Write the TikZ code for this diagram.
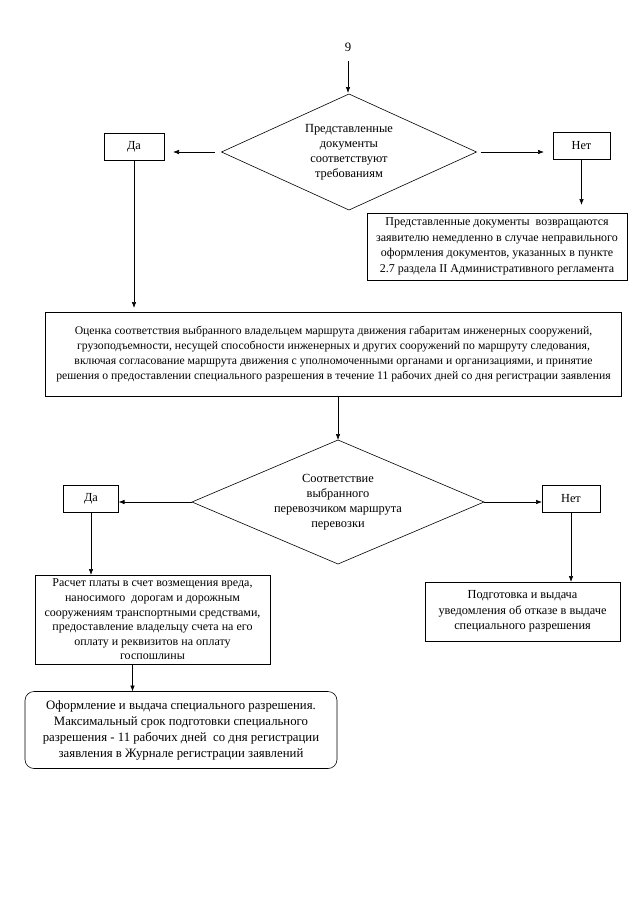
\documentclass[tikz,border=0pt]{standalone}
\usepackage{fontspec}
\setmainfont{Liberation Serif}
\usetikzlibrary{shapes.geometric,arrows.meta,calc}
\begin{document}
\begin{tikzpicture}[x=1pt,y=-1pt,
  every node/.style={inner sep=0pt, outer sep=0pt},
  box/.style={draw, line width=0.6pt, align=center, font=\fontsize{12.3}{15.5}\selectfont},
  dia/.style={draw, diamond, line width=0.6pt, align=center, inner sep=0pt, font=\fontsize{12.4}{15}\selectfont},
  arr/.style={-{Latex[length=6pt,width=4.5pt]}, line width=0.6pt},
  ln/.style={line width=0.6pt}]
\useasboundingbox[fill=white] (0,0) rectangle (640,905);

\node[font=\fontsize{12.8}{14}\selectfont] (nine) at (348,47) {9};

\node[dia, aspect=2.3, minimum width=255, minimum height=116] (d1) at (349,152)
  {Представленные\\документы\\соответствуют\\требованиям};
\node[box, minimum width=60, minimum height=27] (da1) at (134,146.5) {Да};
\node[box, minimum width=57, minimum height=27] (net1) at (581.5,145.5) {Нет};
\node[box, minimum width=260, minimum height=67, font=\fontsize{12}{15.5}\selectfont] (ret) at (497,246.5)
  {Представленные документы\ \ возвращаются\\заявителю немедленно в случае неправильного\\оформления документов, указанных в пункте\\2.7 раздела II Административного регламента};

\node[box, minimum width=576, minimum height=84, font=\fontsize{11.7}{15.2}\selectfont] (big) at (333.5,354)
  {Оценка соответствия выбранного владельцем маршрута движения габаритам инженерных сооружений,\\
   грузоподъемности, несущей способности инженерных и других сооружений по маршруту следования,\\
   включая согласование маршрута движения с уполномоченными органами и организациями, и принятие\\
   решения о предоставлении специального разрешения в течение 11 рабочих дней со дня регистрации заявления};

\node[dia, aspect=2.0, minimum width=292, minimum height=124] (d2) at (338,502)
  {Соответствие\\выбранного\\перевозчиком маршрута\\перевозки};
\node[box, minimum width=55, minimum height=27] (da2) at (91,499) {Да};
\node[box, minimum width=58, minimum height=27] (net2) at (571,498.5) {Нет};

\node[box, minimum width=235, minimum height=89, font=\fontsize{12}{14.6}\selectfont] (rasch) at (152.5,619.5)
  {Расчет платы в счет возмещения вреда,\\наносимого\ \ дорогам и дорожным\\сооружениям транспортными средствами,\\предоставление владельцу счета на его\\оплату и реквизитов на оплату\\госпошлины};
\node[box, rounded corners=9pt, minimum width=312, minimum height=77, font=\fontsize{12.8}{16}\selectfont] (ofm) at (181,730)
  {Оформление и выдача специального разрешения.\\Максимальный срок подготовки специального\\разрешения - 11 рабочих дней\ \ со дня регистрации\\заявления в Журнале регистрации заявлений};
\node[box, minimum width=195, minimum height=59] (podg) at (522.5,611.5)
  {Подготовка и выдача\\уведомления об отказе в выдаче\\специального разрешения};

% connectors
\draw[arr, shorten <=10pt, shorten >=1pt] (nine.south) -- (nine.south |- d1.north);
\draw[arr, shorten <=7pt, shorten >=9pt] (d1.west) -- (d1.west -| da1.east);
\draw[arr, shorten <=4pt, shorten >=9pt] (d1.east) -- (d1.east -| net1.west);
\draw[arr, shorten >=8pt] (net1.south) -- (net1.south |- ret.north);
\draw[arr, shorten >=4pt] (da1.south) -- (da1.south |- big.north);
\draw[arr] (d2.north |- big.south) -- (d2.north);
\draw[arr] (d2.west) -- (d2.west -| da2.east);
\draw[arr] (d2.east) -- (d2.east -| net2.west);
\draw[arr] (da2.south) -- (da2.south |- rasch.north);
\draw[arr] (net2.south) -- (net2.south |- podg.north);
\draw[arr] ([xshift=-20pt]rasch.south) -- ([xshift=-20pt]rasch.south |- ofm.north);
\end{tikzpicture}
\end{document}
